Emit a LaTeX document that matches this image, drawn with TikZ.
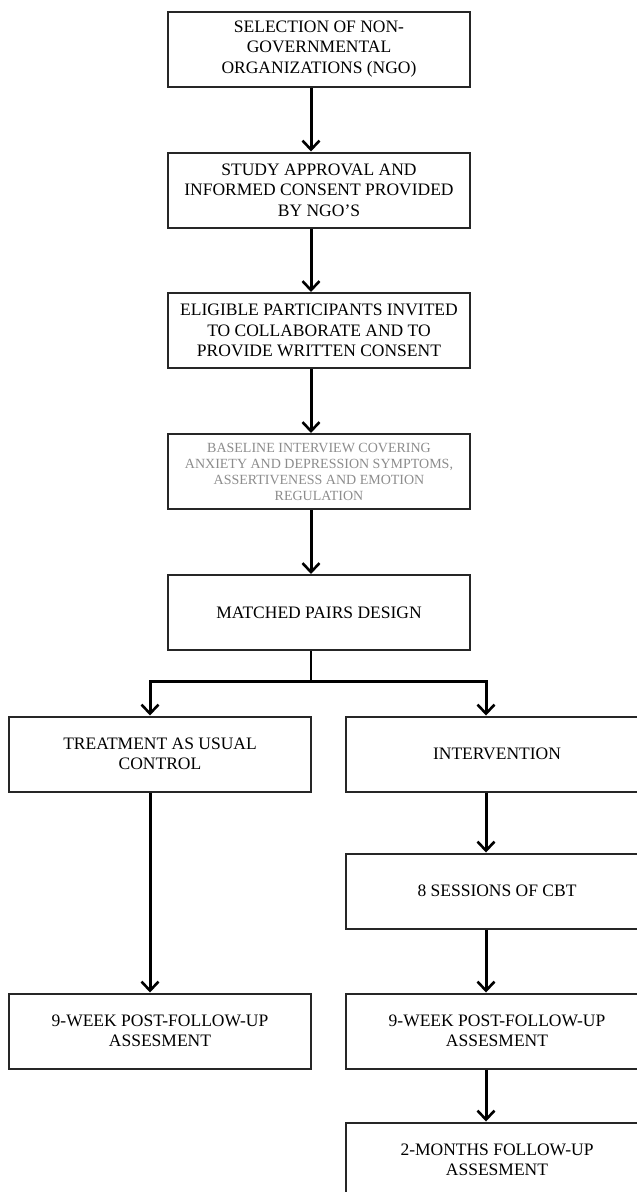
\documentclass[tikz,border=0pt]{standalone}
\usepackage{fontspec}
\setmainfont{Liberation Serif}
\usetikzlibrary{arrows.meta}
\begin{document}
\begin{tikzpicture}[x=1pt,y=-1pt,
  box/.style={draw=black!85,line width=2pt,rectangle,minimum width=302pt,minimum height=75pt,
    align=center,inner sep=2pt,font=\fontsize{17.5}{20.5}\selectfont},
  graybox/.style={box,text=black!45,font=\fontsize{14}{16}\selectfont},
  arr/.style={line width=3pt,-{Straight Barb[length=9pt,width=17pt,line width=2.6pt]}},
  ln/.style={line width=2.5pt}]
\useasboundingbox (0,0) rectangle (637,1192);
\node[box] (b1) at (319,49) {SELECTION OF NON-\\GOVERNMENTAL\\ORGANIZATIONS (NGO)};
\node[box] (b2) at (319,190) {STUDY APPROVAL AND\\INFORMED CONSENT PROVIDED\\BY NGO'S};
\node[box] (b3) at (319,330.5) {ELIGIBLE PARTICIPANTS INVITED\\TO COLLABORATE AND TO\\PROVIDE WRITTEN CONSENT};
\node[graybox] (b4) at (319,471.5) {BASELINE INTERVIEW COVERING\\ANXIETY AND DEPRESSION SYMPTOMS,\\ASSERTIVENESS AND EMOTION\\REGULATION};
\node[box] (b5) at (319,612.5) {MATCHED PAIRS DESIGN};
\node[box] (b6) at (160,754) {TREATMENT AS USUAL\\CONTROL};
\node[box] (b7) at (497,754) {INTERVENTION};
\node[box] (b8) at (497,891) {8 SESSIONS OF CBT};
\node[box] (b9) at (160,1031) {9-WEEK POST-FOLLOW-UP\\ASSESMENT};
\node[box] (b10) at (497,1031) {9-WEEK POST-FOLLOW-UP\\ASSESMENT};
\node[box] (b11) at (497,1160) {2-MONTHS FOLLOW-UP\\ASSESMENT};
\draw[arr] ([xshift=-8pt]b1.south) -- ([xshift=-8pt]b2.north);
\draw[arr] ([xshift=-8pt]b2.south) -- ([xshift=-8pt]b3.north);
\draw[arr] ([xshift=-8pt]b3.south) -- ([xshift=-8pt]b4.north);
\draw[arr] ([xshift=-8pt]b4.south) -- ([xshift=-8pt]b5.north);
\coordinate (split) at ([xshift=-8pt,yshift=-30pt]b5.south);
\draw[ln] ([xshift=-8pt]b5.south) -- (split);
\draw[arr] (split) -| ([xshift=-10pt]b6.north);
\draw[arr] (split) -| ([xshift=-11pt]b7.north);
\draw[arr] ([xshift=-10pt]b6.south) -- ([xshift=-10pt]b9.north);
\draw[arr] ([xshift=-11pt]b7.south) -- ([xshift=-11pt]b8.north);
\draw[arr] ([xshift=-11pt]b8.south) -- ([xshift=-11pt]b10.north);
\draw[arr] ([xshift=-11pt]b10.south) -- ([xshift=-11pt]b11.north);
\end{tikzpicture}
\end{document}
